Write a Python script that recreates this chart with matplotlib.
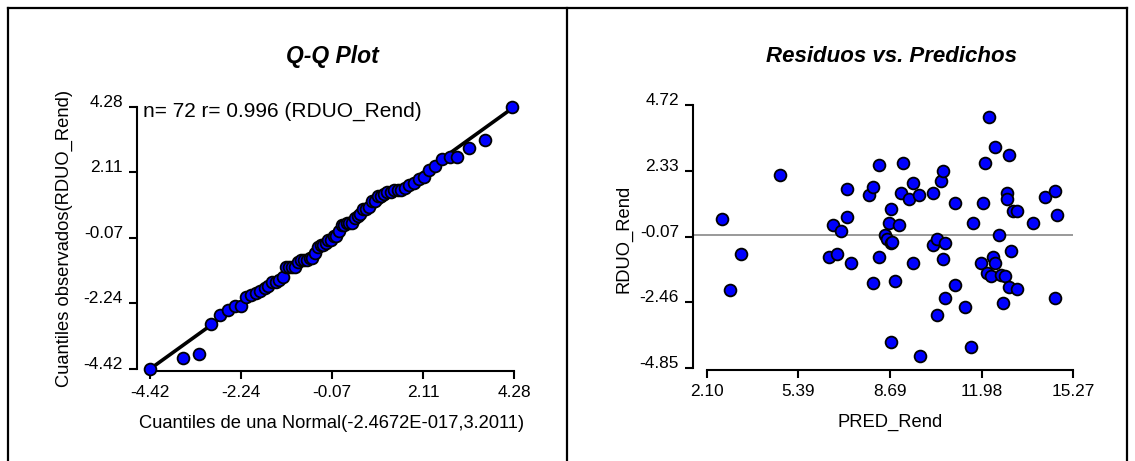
import matplotlib
matplotlib.use("Agg")
import matplotlib.pyplot as plt
from matplotlib.lines import Line2D

plt.rcParams["font.family"] = ["Liberation Sans", "DejaVu Sans"]

# --- Q-Q plot data: theoretical normal quantiles vs. sorted residuals ---------
qq_x = [-4.42, -3.64, -3.25, -2.97, -2.74, -2.56, -2.40, -2.25, -2.12, -2.00,
        -1.89, -1.78, -1.68, -1.59, -1.50, -1.41, -1.33, -1.25, -1.17, -1.09,
        -1.02, -0.95, -0.88, -0.81, -0.74, -0.67, -0.60, -0.54, -0.47, -0.41,
        -0.34, -0.28, -0.22, -0.16, -0.09, -0.03,
        0.03, 0.09, 0.16, 0.22, 0.28, 0.34, 0.41, 0.47, 0.54, 0.60,
        0.67, 0.74, 0.81, 0.88, 0.95, 1.02, 1.09, 1.17, 1.25, 1.33,
        1.41, 1.50, 1.59, 1.68, 1.78, 1.89, 2.00, 2.12, 2.25, 2.40,
        2.56, 2.74, 2.92, 3.20, 3.58, 4.24]
qq_y = [-4.42, -4.07, -3.92, -2.91, -2.62, -2.47, -2.32, -2.32, -2.03, -1.96,
        -1.89, -1.82, -1.74, -1.67, -1.52, -1.52, -1.45, -1.38, -1.02, -1.02,
        -1.02, -1.02, -0.87, -0.80, -0.80, -0.80, -0.72, -0.72, -0.58, -0.36,
        -0.29, -0.29, -0.25, -0.14, -0.14, 0.00,
        0.00, 0.15, 0.37, 0.37, 0.44, 0.44, 0.44, 0.58, 0.66, 0.73,
        0.88, 0.88, 0.95, 1.17, 1.17, 1.31, 1.31, 1.38, 1.46, 1.46,
        1.53, 1.53, 1.53, 1.60, 1.68, 1.75, 1.89, 1.97, 2.18, 2.33,
        2.55, 2.62, 2.62, 2.91, 3.20, 4.28]
qq_ticks = [-4.42, -2.24, -0.07, 2.11, 4.28]

# --- Residuals vs. predicted ---------------------------------------------------
pred = [2.64, 3.32, 2.93, 4.73, 6.63, 6.92, 7.14, 7.14, 6.49, 6.78,
        7.28, 7.93, 8.07, 8.29, 8.29, 8.07, 8.72, 8.65, 9.01, 8.50,
        8.57, 8.72, 9.08, 9.15, 9.37, 9.51, 9.73, 8.86, 9.51, 8.72,
        9.76, 10.23, 10.52, 10.59, 10.23, 10.37, 10.66, 10.59, 10.37, 10.66,
        11.02, 11.02, 11.38, 11.67, 11.60, 11.96, 12.03, 12.10, 12.24, 12.46,
        12.96, 12.89, 12.89, 13.11, 13.25, 12.60, 13.04, 12.39, 12.46, 12.17,
        12.32, 12.68, 12.82, 12.96, 13.25, 12.75, 13.83, 14.26, 14.62, 14.69,
        14.62, 8.75]
resid = [0.58, -0.72, -2.03, 2.18, 0.37, 0.15, 0.66, 1.68, -0.80, -0.72,
         -1.02, 1.46, 1.75, 2.55, -0.80, -1.74, 0.95, 0.44, 0.37, 0.00,
         -0.14, -0.29, 1.53, 2.62, 1.31, 1.89, 1.46, -1.67, -1.02, -3.92,
         -4.42, 1.53, 1.97, 2.33, -0.36, -0.14, -0.29, -0.87, -2.91, -2.32,
         1.17, -1.82, -2.62, 0.44, -4.07, -1.02, 1.17, 2.62, 4.28, 3.20,
         2.91, 1.53, 1.31, 0.88, 0.88, 0.00, -0.58, -0.80, -1.02, -1.38,
         -1.52, -1.45, -1.52, -1.89, -1.96, -2.47, 0.44, 1.38, 1.60, 0.73,
         -2.32, -0.25]
rp_xticks = [2.10, 5.39, 8.69, 11.98, 15.27]
rp_yticks = [-4.85, -2.46, -0.07, 2.33, 4.72]

W, H = 1135, 461
fig = plt.figure(figsize=(W / 100, H / 100), dpi=100)


def px_axes(left, right, top, bottom):
    return fig.add_axes([left / W, 1 - bottom / H, (right - left) / W, (bottom - top) / H])


def style(ax, xticks, yticks):
    for s in ("top", "right"):
        ax.spines[s].set_visible(False)
    for s in ("left", "bottom"):
        ax.spines[s].set_linewidth(1.5)
    ax.spines["bottom"].set_bounds(xticks[0], xticks[-1])
    ax.spines["left"].set_bounds(yticks[0], yticks[-1])
    ax.set_xticks(xticks)
    ax.set_xticklabels([f"{v:.2f}" for v in xticks])
    ax.set_yticks(yticks)
    ax.set_yticklabels([f"{v:.2f}" for v in yticks])
    ax.tick_params(direction="out", length=6, width=1.5, labelsize=12.4, pad=4)
    for lab in ax.get_yticklabels():
        lab.set_verticalalignment("baseline")


mk = dict(s=72, c="#0000ff", edgecolors="black", linewidths=1.3, zorder=3, clip_on=False)

# left panel: Q-Q plot
ax1 = px_axes(137, 514, 107, 371)
ax1.set_xlim(-4.731, 4.28)
ax1.set_ylim(-4.486, 4.28)
ax1.plot([qq_x[0], qq_x[-1]], [qq_x[0], qq_x[-1]], color="black", lw=2.6, zorder=2,
         solid_capstyle="butt")
ax1.scatter(qq_x, qq_y, **mk)
style(ax1, qq_ticks, qq_ticks)

# right panel: residuals vs predicted
ax2 = px_axes(693, 1073, 105, 370)
ax2.set_xlim(1.596, 15.27)
ax2.set_ylim(-4.923, 4.72)
ax2.axhline(0, color="#999999", lw=1.4, zorder=1)
ax2.scatter(pred, resid, **mk)
style(ax2, rp_xticks, rp_yticks)

# texts placed in pixel positions
def ftext(x, y, s, **kw):
    fig.text(x / W, 1 - y / H, s, **kw)

ftext(332, 56, "Q-Q Plot", ha="center", va="center", fontsize=16.5,
      fontweight="bold", fontstyle="italic")
ftext(892, 56, "Residuos vs. Predichos", ha="center", va="center", fontsize=16,
      fontweight="bold", fontstyle="italic")
ftext(143, 111, "n= 72 r= 0.996 (RDUO_Rend)", ha="left", va="center", fontsize=15)
ftext(332, 423, "Cuantiles de una Normal(-2.4672E-017,3.2011)", ha="center",
      va="center", fontsize=13.2)
ftext(890, 422, "PRED_Rend", ha="center", va="center", fontsize=13.2)
ftext(64, 238, "Cuantiles observados(RDUO_Rend)", ha="center", va="center",
      fontsize=13.2, rotation=90)
ftext(624, 239, "RDUO_Rend", ha="center", va="center", fontsize=13.2, rotation=90)

# frame lines around the panels
for xs, ys in (([8, 8], [461, 8]), ([8, 1127], [8, 8]), ([1127, 1127], [8, 461]),
               ([567, 567], [8, 461])):
    fig.add_artist(Line2D([x / W for x in xs], [1 - y / H for y in ys],
                          color="black", lw=1.6, transform=fig.transFigure))

fig.savefig("out.png", dpi=100)
